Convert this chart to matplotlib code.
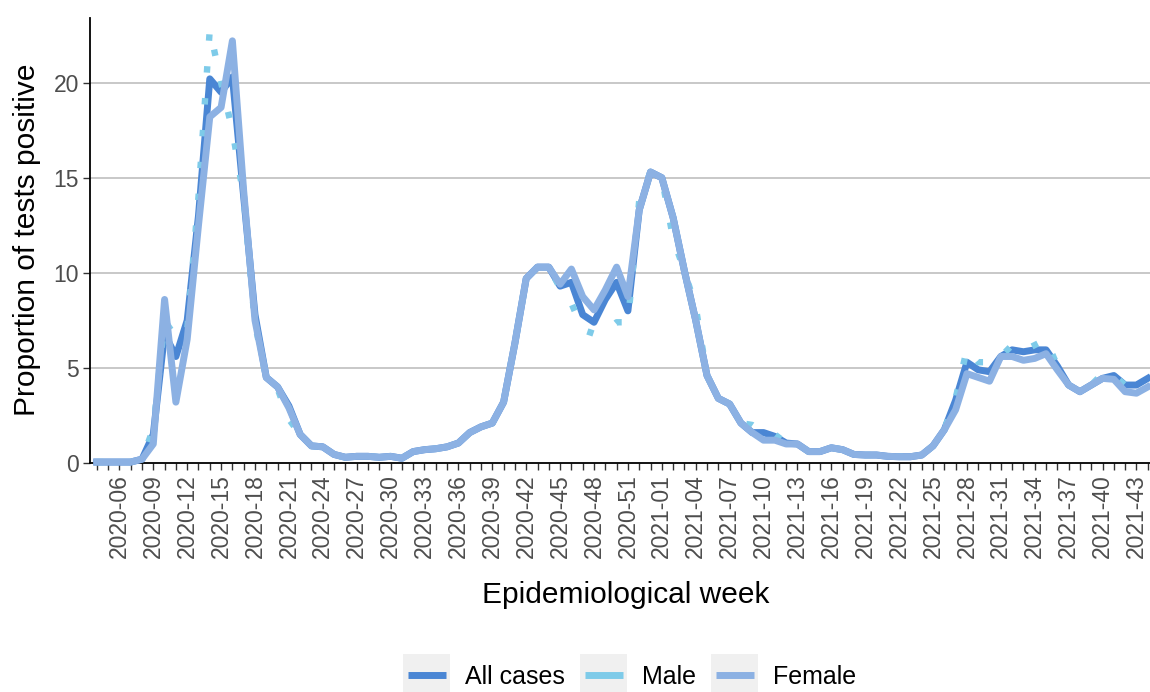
import matplotlib
matplotlib.use("Agg")
import matplotlib.pyplot as plt
from matplotlib.legend_handler import HandlerBase
from matplotlib.patches import Rectangle
from matplotlib.lines import Line2D

plt.rcParams['font.family'] = ['Liberation Sans', 'DejaVu Sans']

# ---- data -------------------------------------------------------------
weeks = [f"2020-{w:02d}" for w in range(4, 54)] + [f"2021-{w:02d}" for w in range(1, 45)]

all_cases = [
    0.05, 0.05, 0.05, 0.05, 0.2,
    1.5, 6.8, 5.6, 7.5, 13.0,
    20.2, 19.5, 20.3, 14.0, 7.8,
    4.5, 4.0, 3.0, 1.5, 0.9,
    0.85, 0.45, 0.3, 0.35, 0.35,
    0.3, 0.35, 0.25, 0.6, 0.7,
    0.75, 0.85, 1.05, 1.6, 1.9,
    2.1, 3.2, 6.3, 9.7, 10.3,
    10.3, 9.3, 9.5, 7.8, 7.4,
    8.6, 9.5, 8.0, 13.3, 15.3,
    15.0, 12.9, 10.1, 7.5, 4.6,
    3.4, 3.1, 2.1, 1.6, 1.6,
    1.4, 1.05, 1.0, 0.6, 0.6,
    0.8, 0.7, 0.45, 0.42, 0.42,
    0.35, 0.33, 0.33, 0.42, 0.9,
    1.75, 3.3, 5.3, 4.9, 4.8,
    5.6, 5.95, 5.85, 5.95, 5.95,
    5.1, 4.1, 3.75, 4.1, 4.45,
    4.6, 4.1, 4.1, 4.45,
]

male = [
    0.05, 0.05, 0.05, 0.05, 0.2,
    1.8, 7.5, 6.6, 7.0, 14.0,
    22.8, 20.0, 17.5, 14.0, 7.3,
    4.5, 3.9, 2.3, 1.5, 0.9,
    0.85, 0.4, 0.3, 0.35, 0.35,
    0.3, 0.35, 0.25, 0.6, 0.7,
    0.75, 0.85, 1.05, 1.6, 1.9,
    2.1, 3.2, 6.3, 9.7, 10.3,
    10.3, 9.2, 8.4, 7.0, 6.8,
    6.9, 7.4, 7.4, 13.8, 15.3,
    15.0, 11.8, 10.1, 8.2, 4.6,
    3.4, 3.1, 2.1, 2.0, 1.6,
    1.5, 1.05, 1.0, 0.6, 0.6,
    0.8, 0.7, 0.45, 0.42, 0.42,
    0.35, 0.33, 0.33, 0.42, 0.9,
    1.75, 3.4, 6.0, 5.3, 5.3,
    5.6, 6.2, 5.9, 6.2, 6.5,
    5.1, 4.1, 3.75, 4.1, 4.7,
    4.6, 4.1, 4.45, 4.45,
]

female = [
    0.05, 0.05, 0.05, 0.05, 0.2,
    1.0, 8.6, 3.2, 6.5, 12.5,
    18.2, 18.7, 22.2, 14.3, 7.5,
    4.5, 4.0, 2.9, 1.5, 0.9,
    0.85, 0.45, 0.3, 0.35, 0.35,
    0.3, 0.35, 0.25, 0.6, 0.7,
    0.75, 0.85, 1.05, 1.6, 1.9,
    2.1, 3.2, 6.3, 9.7, 10.3,
    10.3, 9.4, 10.2, 8.75, 8.05,
    9.1, 10.3, 8.75, 13.3, 15.3,
    15.0, 12.9, 10.1, 7.5, 4.6,
    3.4, 3.1, 2.1, 1.6, 1.2,
    1.2, 1.0, 1.0, 0.6, 0.6,
    0.8, 0.7, 0.45, 0.42, 0.42,
    0.35, 0.33, 0.33, 0.42, 0.9,
    1.75, 2.8, 4.7, 4.5, 4.3,
    5.6, 5.6, 5.4, 5.5, 5.75,
    4.9, 4.1, 3.75, 4.1, 4.45,
    4.4, 3.75, 3.67, 4.0,
]

series_names = ["All cases", "Male", "Female"]
colors = ["#4a86d4", "#7ecbe9", "#8cb1e3"]
yticks = [0, 5, 10, 15, 20]

# ---- figure -----------------------------------------------------------
W, H = 1150, 692
fig = plt.figure(figsize=(W / 100, H / 100), dpi=100)
ax = fig.add_axes([90 / W, 1 - 463 / H, 1060 / W, 445 / H])

x = list(range(len(weeks)))
ax.plot(x, all_cases, color=colors[0], lw=5.0, clip_on=False, zorder=3)
ax.plot(x, male, color=colors[1], lw=4.6, linestyle=(0, (1, 4)),
        dash_capstyle='butt', clip_on=False, zorder=4)
ax.plot(x, female, color=colors[2], lw=5.0, clip_on=False, zorder=5)

ax.set_xlim(-0.6, 93.2)
ax.set_ylim(0, 23.4)

ax.set_yticks(yticks)
ax.set_yticklabels([str(v) for v in yticks])
ax.set_xticks(x)
ax.set_xticklabels([w if (i - 2) % 3 == 0 and i >= 2 else "" for i, w in enumerate(weeks)],
                   rotation=90)

for s in ["top", "right"]:
    ax.spines[s].set_visible(False)
for s in ["left", "bottom"]:
    ax.spines[s].set_color("black")
    ax.spines[s].set_linewidth(1.3)

ax.yaxis.grid(True, color="#c4c4c4", lw=1.3)
ax.set_axisbelow(True)
# hide grid line at 0
ax.yaxis.get_gridlines()[0].set_visible(False)

ax.tick_params(axis='both', colors="#333333", length=5, width=1.0,
               labelsize=16.5, labelcolor="#4d4d4d")
ax.tick_params(axis='x', pad=3)
ax.tick_params(axis='y', pad=3)

fig.text(626 / W, 1 - 595 / H, "Epidemiological week", ha='center', va='center',
         fontsize=21.5, color="black")
fig.text(27 / W, 1 - 240 / H, "Proportion of tests positive", ha='center', va='center',
         rotation=90, fontsize=21.5, color="black")


class BoxedLineHandler(HandlerBase):
    def create_artists(self, legend, orig_handle, xdescent, ydescent, width, height,
                       fontsize, trans):
        cy = height / 2 - ydescent
        rect = Rectangle((-xdescent, cy - 15), width, 30, facecolor="#f0f0f0",
                         edgecolor="none", transform=trans)
        line = Line2D([-xdescent + 0.1 * width, -xdescent + 0.9 * width], [cy, cy],
                      color=orig_handle.get_color(), lw=5, solid_capstyle='butt',
                      transform=trans)
        return [rect, line]


handles = [Line2D([], [], color=c) for c in colors]
fig.legend(handles, series_names, loc='center', bbox_to_anchor=(630 / W, 1 - 677 / H),
           ncol=3, frameon=False, fontsize=18, handlelength=1.88, handletextpad=0.6,
           columnspacing=0.6, handler_map={Line2D: BoxedLineHandler()})

fig.savefig("out.png", dpi=100)
